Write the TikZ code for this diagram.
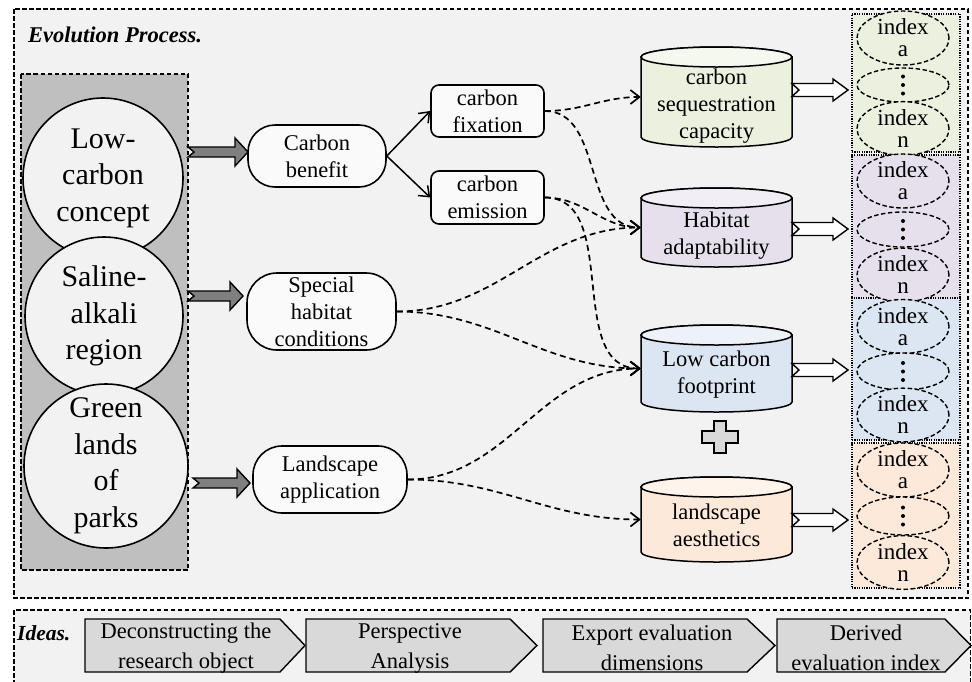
\documentclass[tikz,border=0pt]{standalone}
\usepackage{fontspec}
\setmainfont{Liberation Serif}
\usetikzlibrary{shapes.geometric,arrows.meta}
\definecolor{bgc}{HTML}{F2F2F2}
\definecolor{grayrect}{HTML}{BFBFBF}
\definecolor{fatgray}{HTML}{7F7F7F}
\definecolor{chev}{HTML}{D9D9D9}
\definecolor{gbody}{HTML}{EBF1DE}\definecolor{gtop}{HTML}{F5F8EE}
\definecolor{lbody}{HTML}{E5E0EC}\definecolor{ltop}{HTML}{F1EEF5}
\definecolor{bbody}{HTML}{DCE6F2}\definecolor{btop}{HTML}{EDF2F9}
\definecolor{pbody}{HTML}{FDE9D9}\definecolor{ptop}{HTML}{FEF4EC}
\newcommand\fatarr[8]{%
  \draw[#8] (#1,{-#3+#4}) -- ({#2-#6},{-#3+#4}) -- ({#2-#6},{-#3+#5}) -- (#2,-#3)
    -- ({#2-#6},{-#3-#5}) -- ({#2-#6},{-#3-#4}) -- (#1,{-#3-#4}) -- ({#1+#7},-#3) -- cycle;}
\newcommand\cylshape[5]{% name, top, bottom, body, top colour
  \filldraw[#4, draw=black, line width=1.5pt] (641,{-(#2+10)}) -- (641,{-(#3-10)})
    arc[start angle=180,end angle=360,x radius=75.5,y radius=10]
    -- (792,{-(#2+10)}) arc[start angle=0,end angle=180,x radius=75.5,y radius=10] -- cycle;
  \filldraw[#5, draw=black, line width=1.5pt] (716.5,{-(#2+10)}) ellipse[x radius=75.5,y radius=10];
  \node[minimum width=151pt, minimum height={#3-#2}, inner sep=0pt] (#1) at (716.5,{-(#2+#3)/2}) {};}
\newcommand\idxcol[4]{% name, top, bottom, colour
  \node[idxbox, fill=#4, minimum width=108pt, minimum height={#3-#2}] (#1) at (906,{-(#2+#3)/2}) {};}
\newcommand\vdotsdraw[1]{%
  \fill (903,{-#1+8.5}) circle[radius=2] (903,-#1) circle[radius=2] (903,{-#1-8.5}) circle[radius=2];}
\begin{document}
\begin{tikzpicture}[x=1pt,y=1pt,
  bigbox/.style={draw, line width=1.4pt, dash pattern=on 4.5pt off 2.5pt},
  circ/.style={circle, draw, line width=1.6pt, fill=bgc, inner sep=0pt, align=center,
     font=\fontsize{30}{36.5}\selectfont},
  rbox/.style={draw, line width=1.6pt, fill=white!60!bgc, align=center, inner sep=0pt,
     font=\fontsize{22.5}{27}\selectfont},
  ctext/.style={align=center, inner sep=0pt, font=\fontsize{22.5}{27}\selectfont},
  idxbox/.style={draw, line width=1.4pt, dash pattern=on 1.2pt off 1.2pt, inner sep=0pt},
  idxell/.style={ellipse, draw, line width=1.4pt, dash pattern=on 4.5pt off 2.5pt, inner sep=0pt,
     minimum width=92pt, align=center, font=\fontsize{23}{22}\selectfont},
  solidarr/.style={line width=1.5pt, -{Straight Barb[length=9pt,width=14pt]}},
  dconn/.style={line width=1.7pt, dash pattern=on 6pt off 4pt, -{Straight Barb[length=9pt,width=14pt]}},
  fatg/.style={draw, line width=1.4pt, fill=fatgray},
  fatw/.style={draw, line width=1.4pt, fill=white},
  chevs/.style={draw, line width=1.4pt, fill=chev},
  chtext/.style={align=center, inner sep=0pt, font=\fontsize{22.5}{30}\selectfont}]
\useasboundingbox (0,0) rectangle (972,-681);
\fill[white] (0,0) rectangle (972,-681);
% outer boxes
\draw[bigbox, fill=bgc] (14,-9) rectangle (968,-598);
\begin{scope}
\clip (0,0) rectangle (972,-681);
\draw[bigbox, fill=bgc] (14,-610) rectangle (970.5,-700);
\end{scope}
\node[anchor=west, inner sep=0pt, font=\fontsize{22.5}{26}\selectfont\bfseries\itshape] (title) at (28,-35) {Evolution Process.};
\node[anchor=west, inner sep=0pt, font=\fontsize{21.5}{26}\selectfont\bfseries\itshape] (ideas) at (17,-633) {Ideas.};
% gray rect and circles
\draw[bigbox, fill=grayrect] (21,-74) rectangle (188,-570);
\node[circ, minimum size=160pt] (lowc) at (103,-178) {Low-\\carbon\\concept};
\node[circ, minimum size=158pt] (saline) at (104,-316) {Saline-\\alkali\\region};
\node[circ, minimum size=164pt] (green) at (106,-466) {Green\\lands\\of\\parks};
% fat gray arrows
\fatarr{188}{248}{152}{5}{14}{13}{6}{fatg}
\fatarr{188}{243}{296}{5}{14}{13}{6}{fatg}
\fatarr{193}{250}{483}{5}{14}{13}{6}{fatg}
% rounded boxes
\node[rbox, minimum width=138pt, minimum height=62pt, rounded corners=27pt] (cb) at (317,-156) {Carbon\\benefit};
\node[rbox, minimum width=149pt, minimum height=77pt, rounded corners=30pt] (sh) at (321.5,-311.5) {Special\\habitat\\conditions};
\node[rbox, minimum width=154pt, minimum height=67pt, rounded corners=29pt] (la) at (330,-479.5) {Landscape\\application};
\node[rbox, minimum width=113pt, minimum height=52pt, rounded corners=8pt] (fix) at (487.5,-111) {carbon\\fixation};
\node[rbox, minimum width=113pt, minimum height=53pt, rounded corners=8pt] (emi) at (487.5,-197.5) {carbon\\emission};
\draw[solidarr] (cb.east) -- (fix.west);
\draw[solidarr] (cb.east) -- (emi.west);
% cylinders
\cylshape{seq}{47}{147}{gbody}{gtop}
\cylshape{hab}{188}{267}{lbody}{ltop}
\cylshape{low}{325}{412}{bbody}{btop}
\cylshape{aes}{477}{562}{pbody}{ptop}
\node[ctext] (seqt) at (716.5,-106) {carbon\\sequestration\\capacity};
\node[ctext] (habt) at (716.5,-236) {Habitat\\adaptability};
\node[ctext] (lowt) at (716.5,-375) {Low carbon\\footprint};
\node[ctext] (aest) at (716.5,-525) {landscape\\aesthetics};
% plus sign
\filldraw[fill=chev, draw=black, line width=1.4pt]
  (714,-421) -- (726,-421) -- (726,-431) -- (738,-431) -- (738,-443) -- (726,-443) -- (726,-453)
  -- (714,-453) -- (714,-443) -- (702,-443) -- (702,-431) -- (714,-431) -- cycle;
% dashed connectors
\draw[dconn] (fix.east) to[out=0,in=180] (seq.west);
\draw[dconn] (fix.east) to[out=0,in=180] (hab.west);
\draw[dconn] (emi.east) to[out=0,in=180] (hab.west);
\draw[dconn] (emi.east) to[out=0,in=180] (low.west);
\draw[dconn] (sh.east) to[out=0,in=180] (hab.west);
\draw[dconn] (sh.east) to[out=0,in=180] (low.west);
\draw[dconn] (la.east) to[out=0,in=180] (low.west);
\draw[dconn] (la.east) to[out=0,in=180] (aes.west);
% white arrows
\fatarr{792}{848}{90}{6.5}{11}{15}{7}{fatw}
\fatarr{792}{848}{229}{6.5}{11}{15}{7}{fatw}
\fatarr{792}{848}{370}{6.5}{11}{15}{7}{fatw}
\fatarr{792}{848}{520}{6.5}{11}{15}{7}{fatw}
% index columns
\idxcol{colA}{14}{152}{gbody}
\idxcol{colB}{155}{300}{lbody}
\idxcol{colC}{298}{440}{bbody}
\idxcol{colD}{443}{588}{pbody}
\node[idxell, fill=gbody, minimum height=48pt] (a1) at (903,-38) {index\\a};
\node[idxell, fill=gbody, minimum height=34pt] (d1) at (903,-85) {};
\node[idxell, fill=gbody, minimum height=47pt] (n1) at (903,-128.5) {index\\n};
\node[idxell, fill=lbody, minimum height=52pt] (a2) at (903,-181) {index\\a};
\node[idxell, fill=lbody, minimum height=35pt] (d2) at (903,-229.5) {};
\node[idxell, fill=lbody, minimum height=50pt] (n2) at (903,-275) {index\\n};
\node[idxell, fill=bbody, minimum height=47pt] (a3) at (903,-326.5) {index\\a};
\node[idxell, fill=bbody, minimum height=37pt] (d3) at (903,-371.5) {};
\node[idxell, fill=bbody, minimum height=46pt] (n3) at (903,-415) {index\\n};
\node[idxell, fill=pbody, minimum height=46pt] (a4) at (903,-470) {index\\a};
\node[idxell, fill=pbody, minimum height=38pt] (d4) at (903,-516) {};
\node[idxell, fill=pbody, minimum height=49pt] (n4) at (903,-562.5) {index\\n};
\vdotsdraw{85}
\vdotsdraw{229.5}
\vdotsdraw{371.5}
\vdotsdraw{516}
% ideas chevrons
\filldraw[chevs] (85,-619) -- (280,-619) -- (305,-645.5) -- (280,-672) -- (85,-672) -- cycle;
\filldraw[chevs] (306,-619) -- (510,-619) -- (537,-645.5) -- (510,-672) -- (306,-672) -- cycle;
\filldraw[chevs] (543,-619) -- (747,-619) -- (775,-645.5) -- (747,-672) -- (543,-672) -- cycle;
\filldraw[chevs] (777,-619) -- (945,-619) -- (971,-645.5) -- (945,-672) -- (777,-672) -- cycle;
\node[chtext] (i1) at (186,-648) {Deconstructing the\\research object};
\node[chtext] (i2) at (410,-648) {Perspective\\Analysis};
\node[chtext] (i3) at (652,-648) {Export evaluation\\dimensions};
\node[chtext] (i4) at (866,-648) {Derived\\evaluation index};
\end{tikzpicture}
\end{document}
